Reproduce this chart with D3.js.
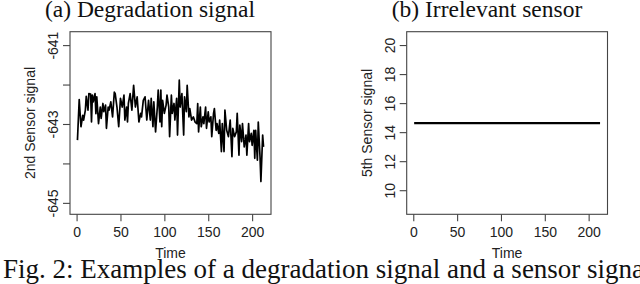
<!DOCTYPE html>
<html>
<head>
<meta charset="utf-8">
<script src="https://cdn.jsdelivr.net/npm/d3@7"></script>
<style>
  html, body { margin: 0; padding: 0; background: #fff; overflow: hidden; }
  svg { display: block; }
</style>
</head>
<body>
<svg id="chart" width="640" height="284"></svg>
<script>
// ---- Data ----
const timeA = [1,3,5,7,8,10,11,13,14,16,17,18,19,21,22,23,25,27,28,30,31,33,34,36,37,39,41,43,44,46,48,50,52,54,55,57,58,59,61,63,65,67,69,71,73,74,76,78,80,82,84,85,87,88,90,92,93,95,96,97,98,100,102,103,105,106,108,109,111,112,114,115,117,118,120,122,123,125,126,128,129,131,133,135,137,138,139,141,142,144,145,147,148,150,151,153,154,156,157,159,160,162,163,165,166,168,169,171,173,175,177,178,180,182,183,185,186,188,189,191,193,194,196,197,199,200,202,203,204,206,207,209,210,212,213];
const sensor2 = [-643.41,-642.38,-643.07,-642.78,-642.90,-642.65,-642.30,-642.65,-642.23,-642.24,-642.95,-642.27,-642.44,-642.23,-642.74,-642.31,-642.99,-642.57,-642.86,-642.48,-642.69,-642.52,-643.11,-642.57,-642.65,-642.44,-642.82,-642.19,-642.23,-642.57,-643.07,-642.35,-642.57,-642.27,-642.90,-642.57,-642.95,-642.48,-642.23,-642.65,-642.02,-642.57,-642.31,-642.95,-642.73,-642.82,-642.40,-642.31,-642.90,-642.40,-642.90,-642.35,-643.07,-642.44,-643.20,-642.57,-642.14,-642.95,-642.14,-643.07,-642.40,-642.73,-642.52,-642.27,-642.57,-643.32,-642.27,-642.73,-642.48,-642.90,-642.35,-643.28,-641.89,-642.57,-642.23,-643.28,-642.31,-642.69,-642.02,-642.82,-642.61,-642.90,-642.82,-642.95,-642.99,-642.48,-643.20,-642.57,-643.07,-642.82,-642.99,-642.57,-643.11,-642.69,-642.95,-642.82,-643.32,-642.74,-642.61,-643.16,-642.99,-643.24,-642.90,-643.70,-642.99,-643.70,-642.65,-643.16,-643.32,-642.90,-643.83,-643.11,-643.32,-643.20,-642.73,-643.79,-643.03,-643.45,-642.99,-643.58,-643.28,-643.79,-642.99,-643.45,-643.24,-643.54,-643.16,-643.87,-643.16,-643.92,-642.95,-643.83,-644.46,-643.28,-643.58];
const timeB = [1, 213];
const sensor5 = [14.62, 14.62];

const xTicks = [0, 50, 100, 150, 200];
const yTicksA = [-645, -644, -643, -642, -641];
const yLabelsA = [-645, -643, -641];
const yTicksB = [10, 12, 14, 16, 18, 20];

const titles = ["(a) Degradation signal", "(b) Irrelevant sensor"];
const yTitles = ["2nd Sensor signal", "5th Sensor signal"];
const xTitle = "Time";
const caption = "Fig. 2: Examples of a degradation signal and a sensor signal";

// ---- Drawing ----
const svg = d3.select("#chart");
const SANS = "'Liberation Sans', Arial, Helvetica, sans-serif";
const SERIF = "'Liberation Serif', 'Times New Roman', serif";

const panels = [
  { box: [70, 271, 31.7, 214.3], xDom: [-7.5, 221.5], yDom: [-645.29, -640.66],
    t: timeA, v: sensor2, yTicks: yTicksA, yLabels: yLabelsA, lw: 1.7,
    title: titles[0], titleX: 150, yTitle: yTitles[0] },
  { box: [406.7, 607.5, 31.7, 214.3], xDom: [-7.5, 221.5], yDom: [8.34, 20.92],
    t: timeB, v: sensor5, yTicks: yTicksB, yLabels: yTicksB, lw: 2.2,
    title: titles[1], titleX: 487, yTitle: yTitles[1] }
];

panels.forEach(p => {
  const [x0, x1, y0, y1] = p.box;
  const x = d3.scaleLinear().domain(p.xDom).range([x0, x1]);
  const y = d3.scaleLinear().domain(p.yDom).range([y1, y0]);
  const g = svg.append("g");

  // line
  const pts = p.t.map((t, i) => [t, p.v[i]]);
  g.append("path")
    .datum(pts)
    .attr("fill", "none")
    .attr("stroke", "#000")
    .attr("stroke-width", p.lw)
    .attr("stroke-linejoin", "round")
    .attr("d", d3.line().x(d => x(d[0])).y(d => y(d[1])));

  // box
  g.append("rect")
    .attr("x", x0).attr("y", y0)
    .attr("width", x1 - x0).attr("height", y1 - y0)
    .attr("fill", "none").attr("stroke", "#444").attr("stroke-width", 1.1);

  // x axis
  const xa = g.append("g")
    .attr("transform", `translate(0,${y1})`)
    .call(d3.axisBottom(x).tickValues(xTicks).tickSize(7).tickPadding(5).tickFormat(d3.format("d")));
  xa.select(".domain").remove();
  xa.selectAll(".tick line").attr("stroke", "#444").attr("stroke-width", 1.1);
  xa.selectAll(".tick text")
    .attr("font-family", SANS).attr("font-size", 14).attr("fill", "#222")
    .attr("dy", null).attr("y", 22.3);

  // y axis
  const ya = g.append("g")
    .attr("transform", `translate(${x0},0)`)
    .call(d3.axisLeft(y).tickValues(p.yTicks).tickSize(7)
      .tickFormat(d => p.yLabels.includes(d) ? String(d) : ""));
  ya.select(".domain").remove();
  ya.selectAll(".tick line").attr("stroke", "#444").attr("stroke-width", 1.1);
  ya.selectAll(".tick text")
    .attr("font-family", SANS).attr("font-size", 14).attr("fill", "#222")
    .attr("x", null).attr("dy", null)
    .attr("text-anchor", "middle")
    .attr("transform", "translate(-12,0) rotate(-90)");

  // axis titles
  g.append("text")
    .attr("x", (x0 + x1) / 2).attr("y", y1 + 43.5)
    .attr("text-anchor", "middle")
    .attr("font-family", SANS).attr("font-size", 14).attr("fill", "#222")
    .text(xTitle);
  g.append("text")
    .attr("transform", `translate(${x0 - 35},${(y0 + y1) / 2}) rotate(-90)`)
    .attr("text-anchor", "middle")
    .attr("font-family", SANS).attr("font-size", 14).attr("fill", "#222")
    .text(p.yTitle);

  // panel title
  g.append("text")
    .attr("x", p.titleX).attr("y", 16.5)
    .attr("text-anchor", "middle")
    .attr("font-family", SERIF).attr("font-size", 23.5).attr("fill", "#111")
    .text(p.title);
});

svg.append("text")
  .attr("x", 3).attr("y", 277.5)
  .attr("font-family", SERIF).attr("font-size", 27).attr("fill", "#111")
  .text(caption);
</script>
</body>
</html>
